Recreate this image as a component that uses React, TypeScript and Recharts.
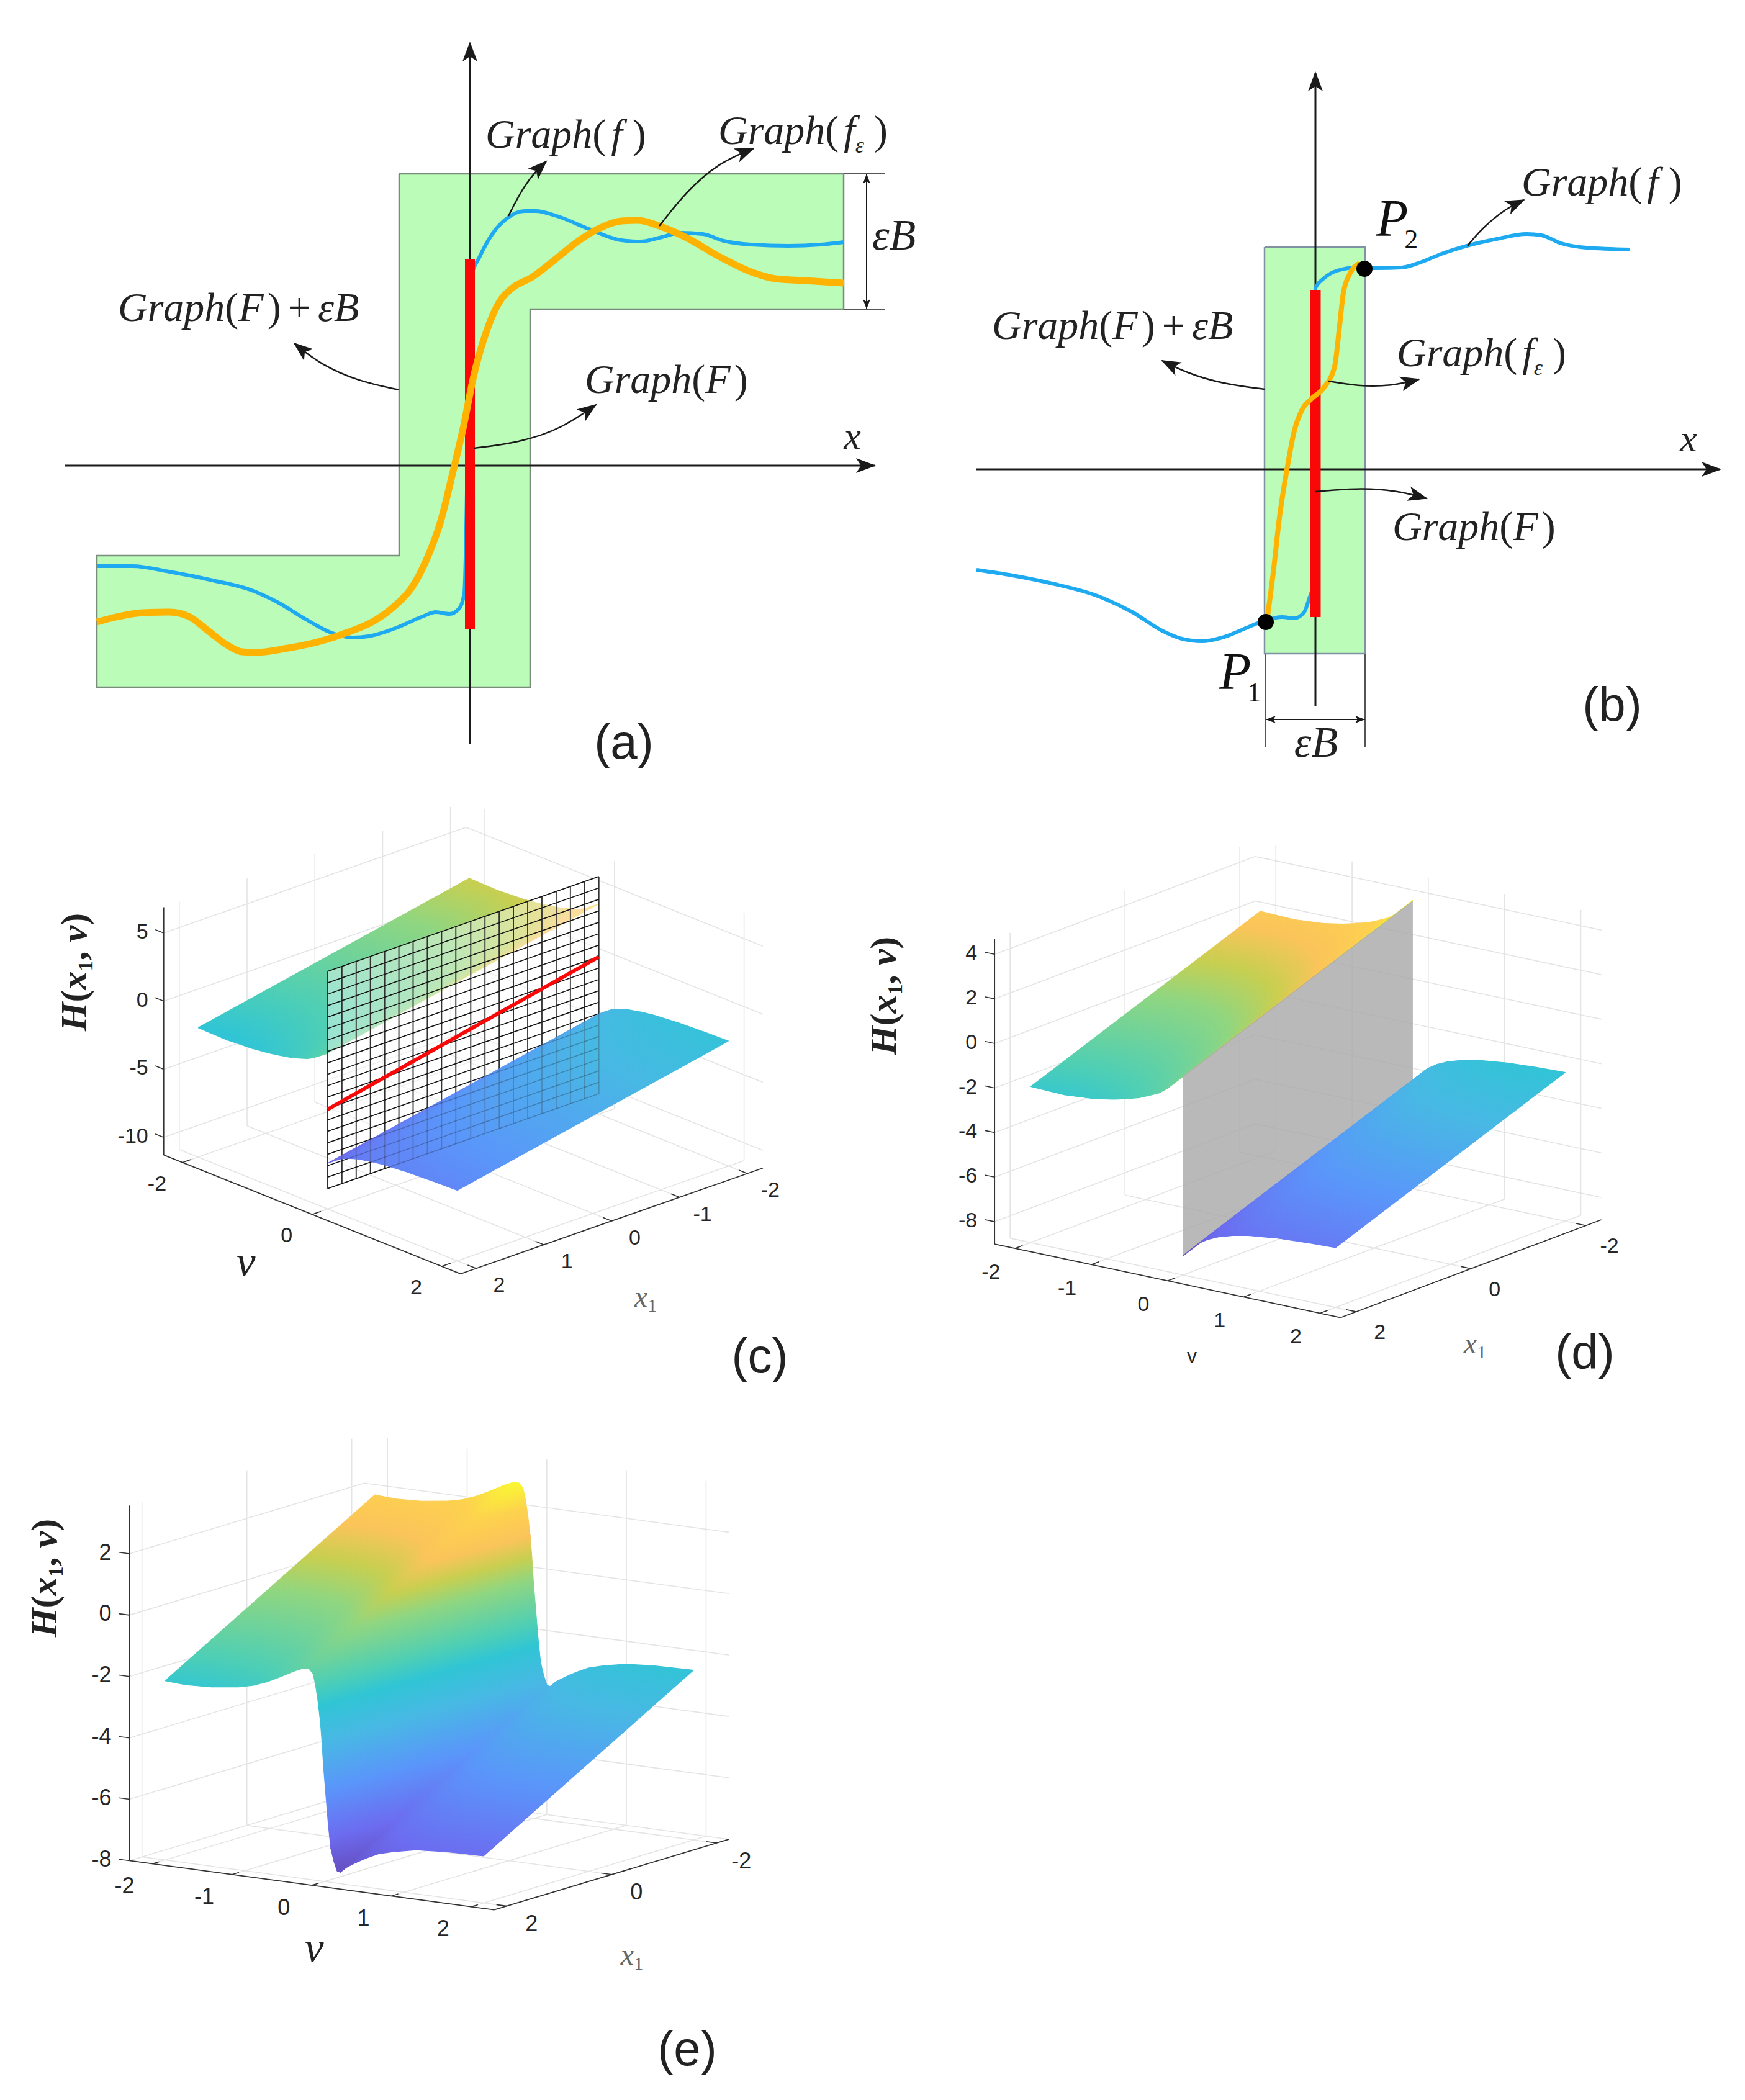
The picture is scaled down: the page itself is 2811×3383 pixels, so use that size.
import React from 'react';
import { ComposedChart, Line, Area, XAxis, YAxis, ReferenceDot } from 'recharts';

// panel (a), values in axis units
const aBlueX = [-6.01, -5.44, -4.84, -4.14, -3.54, -3.1, -2.67, -2.24, -1.89, -1.63, -1.2, -0.76, -0.55, -0.33, -0.17, -0.09, 0.02, 0.15, 0.36, 0.62, 0.88, 1.06, 1.4, 1.92, 2.44, 2.75, 3.05, 3.4, 3.75, 4.09, 4.53, 5.13, 5.65, 6.02];
const aBlueY = [-1.62, -1.62, -1.71, -1.85, -2.0, -2.2, -2.46, -2.69, -2.77, -2.75, -2.62, -2.43, -2.36, -2.39, -2.3, -2.04, 3.04, 3.35, 3.73, 4.0, 4.1, 4.1, 4.02, 3.81, 3.63, 3.61, 3.67, 3.75, 3.73, 3.62, 3.56, 3.54, 3.56, 3.6];
const aOrangeX = [-6.01, -5.7, -5.27, -4.84, -4.53, -4.23, -3.93, -3.67, -3.45, -2.93, -2.41, -1.98, -1.54, -1.2, -0.94, -0.68, -0.46, -0.29, -0.11, 0.06, 0.28, 0.49, 0.67, 1.01, 1.36, 1.75, 2.1, 2.44, 2.71, 3.05, 3.49, 4.01, 4.53, 4.92, 5.39, 6.02];
const aOrangeY = [-2.52, -2.44, -2.37, -2.36, -2.43, -2.65, -2.88, -3.0, -3.01, -2.94, -2.83, -2.69, -2.5, -2.25, -1.97, -1.47, -0.86, -0.17, 0.6, 1.44, 2.2, 2.66, 2.85, 3.04, 3.31, 3.62, 3.83, 3.94, 3.95, 3.86, 3.67, 3.37, 3.12, 3.01, 2.98, 2.94];
const aBandX = [-6.01, -1.14, -1.14, 0.97, 0.97, 6.02];
const aBandLow = [-3.57, -3.57, -3.57, -3.57, 2.52, 2.52];
const aBandHigh = [-1.45, -1.45, 4.7, 4.7, 4.7, 4.7];
const aOutlineX = [-1.14, 6.02, 6.02, 0.97, 0.97, -6.01, -6.01, -1.14, -1.14];
const aOutlineY = [4.7, 4.7, 2.52, 2.52, -3.57, -3.57, -1.45, -1.45, 4.7];
const aRedY = [3.33, -2.64];

// panel (b)
const bBlueX = [-5.46, -4.88, -4.24, -3.51, -2.95, -2.47, -2.15, -1.83, -1.5, -1.1, -0.8, -0.54, -0.34, -0.18, -0.1, -0.03, 0, 0.14, 0.35, 0.67, 0.99, 1.39, 1.71, 2.03, 2.44, 2.92, 3.4, 3.64, 3.96, 4.37, 5.07];
const bBlueY = [-1.62, -1.71, -1.84, -2.04, -2.3, -2.6, -2.73, -2.77, -2.71, -2.55, -2.43, -2.38, -2.4, -2.3, -2.08, -1.82, 2.92, 3.08, 3.2, 3.25, 3.24, 3.25, 3.34, 3.47, 3.6, 3.71, 3.79, 3.77, 3.64, 3.57, 3.54];
const bOrangeX = [-0.78, -0.68, -0.58, -0.46, -0.34, -0.22, -0.06, 0.14, 0.31, 0.39, 0.45, 0.55, 0.71];
const bOrangeY = [-2.43, -1.67, -0.78, -0.01, 0.62, 0.95, 1.14, 1.32, 1.66, 2.32, 2.84, 3.14, 3.32];
const bBandX = [-0.82, 0.8];
const bBandLow = [-2.97, -2.97];
const bBandHigh = [3.58, 3.58];
const bRedY = [2.89, -2.38];
const bDotX = [-0.8, 0.79];
const bDotY = [-2.46, 3.23];

// panels (c), (d): H(x1, v) = p(v) - x1, two branches
const upperV = [-2, -1.56, -1.17, -0.91, -0.75, -0.58, -0.45, -0.32, -0.22, -0.13, -0.06, 0];
const upperP = [0, -0.05, 0.06, 0.22, 0.36, 0.53, 0.72, 0.93, 1.18, 1.49, 1.72, 1.94];
const lowerV = [0, 0.08, 0.2, 0.32, 0.46, 0.65, 0.85, 1.24, 1.62, 2];
const lowerP = [-6.14, -5.85, -5.44, -5.18, -4.96, -4.76, -4.61, -4.45, -4.37, -4.32];
// panel (e): continuous branch
const smoothV = [-2, -1.73, -1.42, -1.08, -0.9, -0.72, -0.54, -0.38, -0.27, -0.19, -0.14, -0.11, -0.08, -0.05, -0.03, -0.01, 0.02, 0.05, 0.08, 0.12, 0.16, 0.2, 0.28, 0.4, 0.53, 0.68, 0.86, 1.15, 1.5, 2];
const smoothP = [-0.16, -0.2, -0.16, -0.04, 0.07, 0.25, 0.49, 0.72, 0.85, 0.86, 0.71, 0.35, -0.15, -0.81, -1.47, -2.28, -3.21, -4.14, -4.88, -5.3, -5.6, -5.63, -5.44, -5.24, -5.05, -4.86, -4.73, -4.57, -4.5, -4.47];
const edgeX1 = [2, -2];

// the cutting plane and graph of F in (c)
const planeX1 = [2, 1.79, 1.58, 1.37, 1.16, 0.95, 0.74, 0.53, 0.32, 0.11, -0.11, -0.32, -0.53, -0.74, -0.95, -1.16, -1.37, -1.58, -1.79, -2];
const planeH = [-9.8, -8.96, -8.12, -7.28, -6.44, -5.6, -4.76, -3.92, -3.08, -2.24, -1.41, -0.57, 0.27, 1.11, 1.95, 2.79, 3.63, 4.47, 5.31, 6.15];
const redX1 = [2, -2];
const redH = [-3.98, 0.25];

const cHTicks = [-10, -5, 0, 5];
const cVTicks = [-2, 0, 2];
const cX1Ticks = [-2, -1, 0, 1, 2];
const dHTicks = [-8, -6, -4, -2, 0, 2, 4];
const dVTicks = [-2, -1, 0, 1, 2];
const dX1Ticks = [-2, 0, 2];
const eHTicks = [-8, -6, -4, -2, 0, 2];
const eVTicks = [-2, -1, 0, 1, 2];
const eX1Ticks = [-2, 0, 2];

// lightened parula as it shows in the picture
const colorOffsets = [0, 0.1, 0.246, 0.39, 0.5, 0.57, 0.7, 0.77, 0.835, 0.917, 1];
const colorHex = ['#6650c4', '#6c6cf0', '#5a96fa', '#48b8e4', '#30c5d5', '#4fcfb4', '#8fd681', '#c8cf50', '#fbc45a', '#fdd24e', '#f9fb30'];

const SERIF = '"Liberation Serif", serif';
const SANS = '"Liberation Sans", sans-serif';
const NOMARGIN = { top: 0, right: 0, bottom: 0, left: 0 };
const RED = '#fa0808';

const zip = (xs: number[], ys: number[]) => xs.map((x, i) => ({ x, y: ys[i] }));

const path = (key: string, pts: any[], stroke: string, width: number, z: number, opts: any = {}) => (
  <Line
    key={key}
    data={pts}
    dataKey="y"
    type="linear"
    stroke={stroke}
    strokeWidth={width}
    dot={false}
    activeDot={false}
    isAnimationActive={false}
    legendType="none"
    zIndex={z}
    {...opts}
  />
);

const band = (key: string, data: any[], fill: string, z: number, opts: any = {}) => (
  <Area
    key={key}
    data={data}
    dataKey="range"
    type="linear"
    fill={fill}
    stroke="none"
    fillOpacity={1}
    dot={false}
    activeDot={false}
    isAnimationActive={false}
    legendType="none"
    zIndex={z}
    {...opts}
  />
);

// low/high per x of a convex polygon, so that Area can fill it
function polygonBand(poly: { x: number; y: number }[]) {
  const xs = Array.from(new Set(poly.map((p) => p.x))).sort((a, b) => a - b);
  return xs.map((x) => {
    const ys: number[] = [];
    poly.forEach((p, i) => {
      const q = poly[(i + 1) % poly.length];
      if (x < Math.min(p.x, q.x) || x > Math.max(p.x, q.x)) return;
      if (p.x === q.x) ys.push(p.y, q.y);
      else ys.push(p.y + ((q.y - p.y) * (x - p.x)) / (q.x - p.x));
    });
    return { x, range: [Math.min(...ys), Math.max(...ys)] };
  });
}

const arrowDefs = (
  <defs>
    <marker id="arrowEnd" markerUnits="userSpaceOnUse" markerWidth="34" markerHeight="26" refX="30" refY="13" orient="auto-start-reverse">
      <path d="M32 13 L0 1 L8 13 L0 25 Z" fill="#1a1a1a" />
    </marker>
    <marker id="dimEnd" markerUnits="userSpaceOnUse" markerWidth="18" markerHeight="14" refX="16" refY="7" orient="auto-start-reverse">
      <path d="M16 7 L0 1 L4 7 L0 13 Z" fill="#1a1a1a" />
    </marker>
  </defs>
);

const italic = { fontStyle: 'italic' as const };

function GraphLabel({ x, y, arg, sub, plus }: { x: number; y: number; arg: string; sub?: boolean; plus?: boolean }) {
  const wide = arg === 'f';
  return (
    <text x={x} y={y} fontFamily={SERIF} fontSize={66} fill="#222">
      <tspan {...italic}>Graph</tspan>
      <tspan>(</tspan>
      <tspan {...italic} dx={wide ? 8 : 0}>{arg}</tspan>
      {sub ? <tspan {...italic} fontSize={36} dy={14}>ε</tspan> : null}
      <tspan dy={sub ? -14 : 0} dx={wide ? 16 : 6}>)</tspan>
      {plus ? <tspan dx={11}>+</tspan> : null}
      {plus ? <tspan {...italic} dx={11}>εB</tspan> : null}
    </text>
  );
}

const SansTag = ({ x, y, t }: { x: number; y: number; t: string }) => (
  <text x={x} y={y} dy=".35em" textAnchor="middle" fontFamily={SANS} fontSize={78} fill="#222">{t}</text>
);

const HLabel = ({ x, y }: { x: number; y: number }) => (
  <text x={x} y={y} transform={`rotate(-90 ${x} ${y})`} textAnchor="middle" fontFamily={SERIF} fontWeight="bold" fontSize={60} fill="#222">
    <tspan {...italic}>H</tspan>
    <tspan>(</tspan>
    <tspan {...italic}>x</tspan>
    <tspan fontSize={34} dy={10}>1</tspan>
    <tspan dy={-10}>, </tspan>
    <tspan {...italic}>v</tspan>
    <tspan>)</tspan>
  </text>
);

const X1Label = ({ x, y }: { x: number; y: number }) => (
  <text x={x} y={y} textAnchor="middle" fontFamily={SERIF} fontSize={48} fill="#666">
    <tspan {...italic}>x</tspan>
    <tspan fontSize={30} dy={8}>1</tspan>
  </text>
);

const PointLabel = ({ x, y, sub }: { x: number; y: number; sub: string }) => (
  <text x={x} y={y} fontFamily={SERIF} fontSize={84} fill="#111">
    <tspan {...italic}>P</tspan>
    <tspan fontSize={44} dy={20} dx={-6}>{sub}</tspan>
  </text>
);

function axes2d(domainX: number[], domainY: number[], reversed = false) {
  return [
    <XAxis key="xa" type="number" dataKey="x" domain={domainX} hide />,
    <YAxis key="ya" type="number" domain={domainY} hide reversed={reversed} />,
  ];
}

function PanelA() {
  const box = { left: 90, top: 40, width: 1410, height: 1230 };
  const bandData = aBandX.map((x, i) => ({ x, range: [aBandLow[i], aBandHigh[i]] }));
  return (
    <div style={{ position: 'absolute', left: box.left, top: box.top }}>
      <ComposedChart width={box.width} height={box.height} margin={NOMARGIN}>
        {arrowDefs}
        {axes2d([-6.67, 7.43], [-5.2, 7.1])}
        {band('band', bandData, '#bafcb8', 10)}
        {path('outline', zip(aOutlineX, aOutlineY), '#7c8c7c', 2.5, 11)}
        {path('xaxis', zip([-6.53, 6.52], [0, 0]), '#1a1a1a', 3, 12, { markerEnd: 'url(#arrowEnd)' })}
        {path('yaxis', zip([0, 0], [-4.49, 6.81]), '#1a1a1a', 3, 12, { markerEnd: 'url(#arrowEnd)' })}
        {path('blue', zip(aBlueX, aBlueY), '#1eaaf0', 6, 13, { type: 'monotone' })}
        {path('red', zip([0, 0], aRedY), RED, 16, 14)}
        {path('orange', zip(aOrangeX, aOrangeY), '#fdb300', 11, 15, { type: 'monotone' })}
        {path('arF', zip([0.62, 0.8, 1.01, 1.23], [4.02, 4.38, 4.69, 4.9]), '#1a1a1a', 2.5, 16, { type: 'basis', markerEnd: 'url(#arrowEnd)' })}
        {path('arFe', zip([3.05, 3.49, 4.01, 4.57], [3.86, 4.42, 4.88, 5.11]), '#1a1a1a', 2.5, 16, { type: 'basis', markerEnd: 'url(#arrowEnd)' })}
        {path('arB', zip([-1.14, -1.8, -2.41, -2.83], [1.22, 1.36, 1.63, 1.97]), '#1a1a1a', 2.5, 16, { type: 'basis', markerEnd: 'url(#arrowEnd)' })}
        {path('arG', zip([0.06, 0.8, 1.49, 2.03], [0.28, 0.37, 0.6, 0.98]), '#1a1a1a', 2.5, 16, { type: 'basis', markerEnd: 'url(#arrowEnd)' })}
        {path('dimTop', zip([6.02, 6.68], [4.7, 4.7]), '#555', 2, 16)}
        {path('dimBot', zip([6.02, 6.68], [2.52, 2.52]), '#555', 2, 16)}
        {path('dim', zip([6.39, 6.39], [4.7, 2.52]), '#1a1a1a', 2, 16, { markerStart: 'url(#dimEnd)', markerEnd: 'url(#dimEnd)' })}
        <g transform={`translate(${-box.left} ${-box.top})`}>
          <GraphLabel x={782} y={238} arg="f" />
          <GraphLabel x={1157} y={232} arg="f" sub />
          <GraphLabel x={190} y={517} arg="F" plus />
          <GraphLabel x={942} y={633} arg="F" />
          <text x={1373} y={723} textAnchor="middle" fontFamily={SERIF} fontStyle="italic" fontSize={62} fill="#222">x</text>
          <text x={1405} y={402} fontFamily={SERIF} fontStyle="italic" fontSize={70} fill="#222">εB</text>
          <SansTag x={1005} y={1195} t="(a)" />
        </g>
      </ComposedChart>
    </div>
  );
}

function PanelB() {
  const box = { left: 1560, top: 80, width: 1240, height: 1200 };
  const bandData = bBandX.map((x, i) => ({ x, range: [bBandLow[i], bBandHigh[i]] }));
  return (
    <div style={{ position: 'absolute', left: box.left, top: box.top }}>
      <ComposedChart width={box.width} height={box.height} margin={NOMARGIN}>
        {axes2d([-5.59, 6.81], [-5.24, 6.76])}
        {band('band', bandData, '#bafcb8', 10)}
        {path('outline', zip([-0.82, 0.8, 0.8, -0.82, -0.82], [3.58, 3.58, -2.97, -2.97, 3.58]), '#7f93a3', 2.5, 11)}
        {path('xaxis', zip([-5.46, 6.52], [0, 0]), '#1a1a1a', 3, 12, { markerEnd: 'url(#arrowEnd)' })}
        {path('yaxis', zip([0, 0], [-3.82, 6.39]), '#1a1a1a', 3, 12, { markerEnd: 'url(#arrowEnd)' })}
        {path('blue', zip(bBlueX, bBlueY), '#1eaaf0', 6, 13, { type: 'monotone' })}
        {path('red', zip([0, 0], bRedY), RED, 17, 14)}
        {path('orange', zip(bOrangeX, bOrangeY), '#fdb300', 8, 15, { type: 'monotone' })}
        {path('arF', zip([2.45, 2.68, 3.08, 3.36], [3.6, 3.88, 4.21, 4.34]), '#1a1a1a', 2.5, 16, { type: 'basis', markerEnd: 'url(#arrowEnd)' })}
        {path('arB', zip([-0.82, -1.51, -2.07, -2.47], [1.29, 1.38, 1.55, 1.75]), '#1a1a1a', 2.5, 16, { type: 'basis', markerEnd: 'url(#arrowEnd)' })}
        {path('arFe', zip([0.21, 0.67, 1.23, 1.67], [1.42, 1.34, 1.34, 1.45]), '#1a1a1a', 2.5, 16, { type: 'basis', markerEnd: 'url(#arrowEnd)' })}
        {path('arG', zip([0, 0.67, 1.31, 1.79], [-0.36, -0.3, -0.34, -0.47]), '#1a1a1a', 2.5, 16, { type: 'basis', markerEnd: 'url(#arrowEnd)' })}
        {path('dimL', zip([-0.8, -0.8], [-2.97, -4.48]), '#555', 2, 16)}
        {path('dimR', zip([0.8, 0.8], [-2.97, -4.48]), '#555', 2, 16)}
        {path('dim', zip([-0.8, 0.8], [-4.03, -4.03]), '#1a1a1a', 2, 16, { markerStart: 'url(#dimEnd)', markerEnd: 'url(#dimEnd)' })}
        {bDotX.map((x, i) => (
          <ReferenceDot key={i} x={x} y={bDotY[i]} r={13} fill="#000" stroke="none" />
        ))}
        <g transform={`translate(${-box.left} ${-box.top})`}>
          <GraphLabel x={2451} y={315} arg="f" />
          <GraphLabel x={2250} y={590} arg="f" sub />
          <GraphLabel x={1598} y={546} arg="F" plus />
          <GraphLabel x={2243} y={870} arg="F" />
          <text x={2720} y={727} textAnchor="middle" fontFamily={SERIF} fontStyle="italic" fontSize={62} fill="#222">x</text>
          <text x={2120} y={1219} textAnchor="middle" fontFamily={SERIF} fontStyle="italic" fontSize={70} fill="#222">εB</text>
          <PointLabel x={2217} y={380} sub="2" />
          <PointLabel x={1964} y={1110} sub="1" />
          <SansTag x={2597} y={1135} t="(b)" />
        </g>
      </ComposedChart>
    </div>
  );
}

type View = {
  left: number; top: number; width: number; height: number;
  ox: number; oy: number; vv: number[]; xv: number[]; hy: number;
  vLim: number; xLim: number; hMin: number; hMax: number;
  hTicks: number[]; vTicks: number[]; xTicks: number[];
  hOff: number; vOff: number[]; xOff: number[]; font: number;
  colorMin: number; colorMax: number; shift: number;
};

const viewC: View = {
  left: 60, top: 1270, width: 1300, height: 990,
  ox: 746.3, oy: 1623.3, vv: [104.4, 41.8], xv: [-109.2, 38.2], hy: -21.94,
  vLim: 2.29, xLim: 2.23, hMin: -11.3, hMax: 6.9,
  hTicks: cHTicks, vTicks: cVTicks, xTicks: cX1Ticks,
  hOff: -25, vOff: [-41, 33], xOff: [37, 26], font: 34,
  colorMin: -9, colorMax: 5.5, shift: 0.2,
};
const viewD: View = {
  left: 1380, top: 1330, width: 1260, height: 900,
  ox: 2090.9, oy: 1661.4, vv: [122.8, 26.1], xv: [-92.5, 34.7], hy: -35.9,
  vLim: 2.27, xLim: 2.27, hMin: -9, hMax: 4.7,
  hTicks: dHTicks, vTicks: dVTicks, xTicks: dX1Ticks,
  hOff: -28, vOff: [-39, 37], xOff: [38, 32], font: 34,
  colorMin: -8.14, colorMax: 3.6, shift: 0,
};
const viewE: View = {
  left: 20, top: 2300, width: 1260, height: 1060,
  ox: 691.5, oy: 2584.6, vv: [128.3, 17.3], xv: [-84.5, 25.4], hy: -49.45,
  vLim: 2.29, xLim: 2.24, hMin: -8, hMax: 3.57,
  hTicks: eHTicks, vTicks: eVTicks, xTicks: eX1Ticks,
  hOff: -29, vOff: [-45, 35], xOff: [40, 28], font: 36,
  colorMin: -7.6, colorMax: 2.95, shift: 0,
};

const project = (w: View, v: number, x1: number, h: number) => ({
  x: w.ox + v * w.vv[0] + x1 * w.xv[0],
  y: w.oy + v * w.vv[1] + x1 * w.xv[1] + h * w.hy,
});

// strips along x1 between two readings of the v profile, with the colour gradient of H
function buildStrips(w: View, name: string, vs: number[], ps: number[]) {
  const out: { id: string; data: any[]; grad: number[] }[] = [];
  for (let i = 0; i < vs.length - 1; i++) {
    const H = (p: number, x1: number) => p - x1 + w.shift;
    const [nx, fx] = edgeX1;
    const a = project(w, vs[i], nx, H(ps[i], nx));
    const b = project(w, vs[i + 1], nx, H(ps[i + 1], nx));
    const c = project(w, vs[i + 1], fx, H(ps[i + 1], fx));
    const d = project(w, vs[i], fx, H(ps[i], fx));
    const h0 = H(ps[i], nx);
    const e1 = [b.x - a.x, b.y - a.y];
    const e2 = [d.x - a.x, d.y - a.y];
    const dh1 = H(ps[i + 1], nx) - h0;
    const dh2 = H(ps[i], fx) - h0;
    const det = e1[0] * e2[1] - e1[1] * e2[0];
    const gx = (dh1 * e2[1] - dh2 * e1[1]) / det;
    const gy = (e1[0] * dh2 - e2[0] * dh1) / det;
    const g2 = gx * gx + gy * gy;
    const t0 = (w.colorMin - h0) / g2;
    const t1 = (w.colorMax - h0) / g2;
    out.push({
      id: `${name}${i}`,
      data: polygonBand([a, b, c, d]),
      grad: [a.x + t0 * gx - w.left, a.y + t0 * gy - w.top, a.x + t1 * gx - w.left, a.y + t1 * gy - w.top],
    });
  }
  return out;
}

const stripDefs = (strips: ReturnType<typeof buildStrips>) => (
  <defs key="defs">
    {strips.map((s) => (
      <linearGradient key={s.id} id={s.id} gradientUnits="userSpaceOnUse" x1={s.grad[0]} y1={s.grad[1]} x2={s.grad[2]} y2={s.grad[3]}>
        {colorOffsets.map((o, i) => (
          <stop key={i} offset={o} stopColor={colorHex[i]} />
        ))}
      </linearGradient>
    ))}
  </defs>
);

const stripAreas = (strips: ReturnType<typeof buildStrips>, z: number) =>
  strips.map((s) => band(s.id, s.data, `url(#${s.id})`, z, { stroke: `url(#${s.id})`, strokeWidth: 1.2 }));

function boxLines(w: View) {
  const out: React.ReactNode[] = [];
  const L = (key: string, a: number[], b: number[], color: string, width: number, z: number) =>
    out.push(path(key, [project(w, a[0], a[1], a[2]), project(w, b[0], b[1], b[2])], color, width, z));
  const { vLim: vl, xLim: xl, hMin, hMax } = w;
  w.vTicks.forEach((v) => {
    L(`fv${v}`, [v, -xl, hMin], [v, xl, hMin], '#e4e4e4', 1.6, 10);
    L(`bv${v}`, [v, -xl, hMin], [v, -xl, hMax], '#e4e4e4', 1.6, 10);
    L(`tv${v}`, [v, xl, hMin], [v, xl - 0.13, hMin], '#333', 1.6, 12);
  });
  w.xTicks.forEach((x) => {
    L(`fx${x}`, [-vl, x, hMin], [vl, x, hMin], '#e4e4e4', 1.6, 10);
    L(`bx${x}`, [-vl, x, hMin], [-vl, x, hMax], '#e4e4e4', 1.6, 10);
    L(`tx${x}`, [vl, x, hMin], [vl - 0.13, x, hMin], '#333', 1.6, 12);
  });
  w.hTicks.forEach((h) => {
    L(`hv${h}`, [-vl, -xl, h], [vl, -xl, h], '#e4e4e4', 1.6, 10);
    L(`hx${h}`, [-vl, -xl, h], [-vl, xl, h], '#e4e4e4', 1.6, 10);
    L(`th${h}`, [-vl, xl, h], [-vl - 0.13, xl, h], '#333', 1.6, 12);
  });
  L('axH', [-vl, xl, hMin], [-vl, xl, hMax], '#333', 1.8, 12);
  L('axV', [-vl, xl, hMin], [vl, xl, hMin], '#333', 1.8, 12);
  L('axX', [vl, xl, hMin], [vl, -xl, hMin], '#333', 1.8, 12);
  return out;
}

function tickLabels(w: View) {
  const out: React.ReactNode[] = [];
  const T = (key: string, p: { x: number; y: number }, dx: number, dy: number, t: number, anchor = 'middle') =>
    out.push(
      <text key={key} x={p.x + dx} y={p.y + dy} dy=".35em" textAnchor={anchor} fontFamily={SANS} fontSize={w.font} fill="#262626">{t}</text>
    );
  w.hTicks.forEach((h) => T(`lh${h}`, project(w, -w.vLim, w.xLim, h), w.hOff, -3, h, 'end'));
  w.vTicks.forEach((v) => T(`lv${v}`, project(w, v, w.xLim, w.hMin), w.vOff[0], w.vOff[1], v));
  w.xTicks.forEach((x) => T(`lx${x}`, project(w, w.vLim, x, w.hMin), w.xOff[0], w.xOff[1], x));
  return <g transform={`translate(${-w.left} ${-w.top})`}>{out}</g>;
}

const frame = (w: View) => axes2d([w.left, w.left + w.width], [w.top, w.top + w.height], true);

function PanelC() {
  const w = viewC;
  const upper = buildStrips(w, 'cu', upperV, upperP);
  const lower = buildStrips(w, 'cl', lowerV, lowerP);
  const hi = planeH[planeH.length - 1];
  const corners = [
    project(w, 0, 2, planeH[0]),
    project(w, 0, -2, planeH[0]),
    project(w, 0, -2, hi),
    project(w, 0, 2, hi),
  ];
  const mesh = (tag: string, z: number, opacity: number) => [
    ...planeX1.map((x) => path(`${tag}x${x}`, [project(w, 0, x, planeH[0]), project(w, 0, x, hi)], '#333', 1.8, z, { strokeOpacity: opacity })),
    ...planeH.map((h) => path(`${tag}h${h}`, [project(w, 0, 2, h), project(w, 0, -2, h)], '#111', 1.5, z, { strokeOpacity: opacity })),
  ];
  return (
    <div style={{ position: 'absolute', left: w.left, top: w.top }}>
      <ComposedChart width={w.width} height={w.height} margin={NOMARGIN}>
        {stripDefs([...upper, ...lower])}
        {frame(w)}
        {boxLines(w)}
        {stripAreas(upper, 20)}
        {band('plane', polygonBand(corners), '#fff', 30, { fillOpacity: 0.42 })}
        {mesh('m', 40, 1)}
        {stripAreas(lower, 50)}
        {mesh('o', 60, 0.28)}
        {path('red', redX1.map((x, i) => project(w, 0, x, redH[i])), RED, 6, 70)}
        {tickLabels(w)}
        <g transform={`translate(${-w.left} ${-w.top})`}>
          <HLabel x={139} y={1566} />
          <text x={396} y={2055} textAnchor="middle" fontFamily={SERIF} fontStyle="italic" fontSize={70} fill="#222">v</text>
          <X1Label x={1040} y={2105} />
          <SansTag x={1224} y={2184} t="(c)" />
        </g>
      </ComposedChart>
    </div>
  );
}

function PanelD() {
  const w = viewD;
  const upper = buildStrips(w, 'du', upperV, upperP);
  const lower = buildStrips(w, 'dl', lowerV, lowerP);
  const top = upperP[upperP.length - 1];
  const bottom = lowerP[0];
  const wall = [
    project(w, 0, 2, bottom - 2),
    project(w, 0, -2, bottom + 2),
    project(w, 0, -2, top + 2),
    project(w, 0, 2, top - 2),
  ];
  return (
    <div style={{ position: 'absolute', left: w.left, top: w.top }}>
      <ComposedChart width={w.width} height={w.height} margin={NOMARGIN}>
        {stripDefs([...upper, ...lower])}
        {frame(w)}
        {boxLines(w)}
        {stripAreas(upper, 20)}
        {band('wall', polygonBand(wall), '#a9a9a9', 30, { fillOpacity: 0.82 })}
        {stripAreas(lower, 50)}
        {tickLabels(w)}
        <g transform={`translate(${-w.left} ${-w.top})`}>
          <HLabel x={1443} y={1604} />
          <text x={1920} y={2184} dy=".35em" textAnchor="middle" fontFamily={SANS} fontSize={32} fill="#262626">v</text>
          <X1Label x={2376} y={2180} />
          <SansTag x={2553} y={2178} t="(d)" />
        </g>
      </ComposedChart>
    </div>
  );
}

function PanelE() {
  const w = viewE;
  const surface = buildStrips(w, 'es', smoothV, smoothP);
  return (
    <div style={{ position: 'absolute', left: w.left, top: w.top }}>
      <ComposedChart width={w.width} height={w.height} margin={NOMARGIN}>
        {stripDefs(surface)}
        {frame(w)}
        {boxLines(w)}
        {stripAreas(surface, 20)}
        {tickLabels(w)}
        <g transform={`translate(${-w.left} ${-w.top})`}>
          <HLabel x={91} y={2542} />
          <text x={506} y={3160} textAnchor="middle" fontFamily={SERIF} fontStyle="italic" fontSize={70} fill="#222">v</text>
          <X1Label x={1018} y={3165} />
          <SansTag x={1107} y={3300} t="(e)" />
        </g>
      </ComposedChart>
    </div>
  );
}

export default function App() {
  return (
    <div style={{ position: 'absolute', left: 0, top: 0, width: 2811, height: 3383, background: '#fff', overflow: 'hidden' }}>
      <PanelA />
      <PanelB />
      <PanelC />
      <PanelD />
      <PanelE />
    </div>
  );
}
